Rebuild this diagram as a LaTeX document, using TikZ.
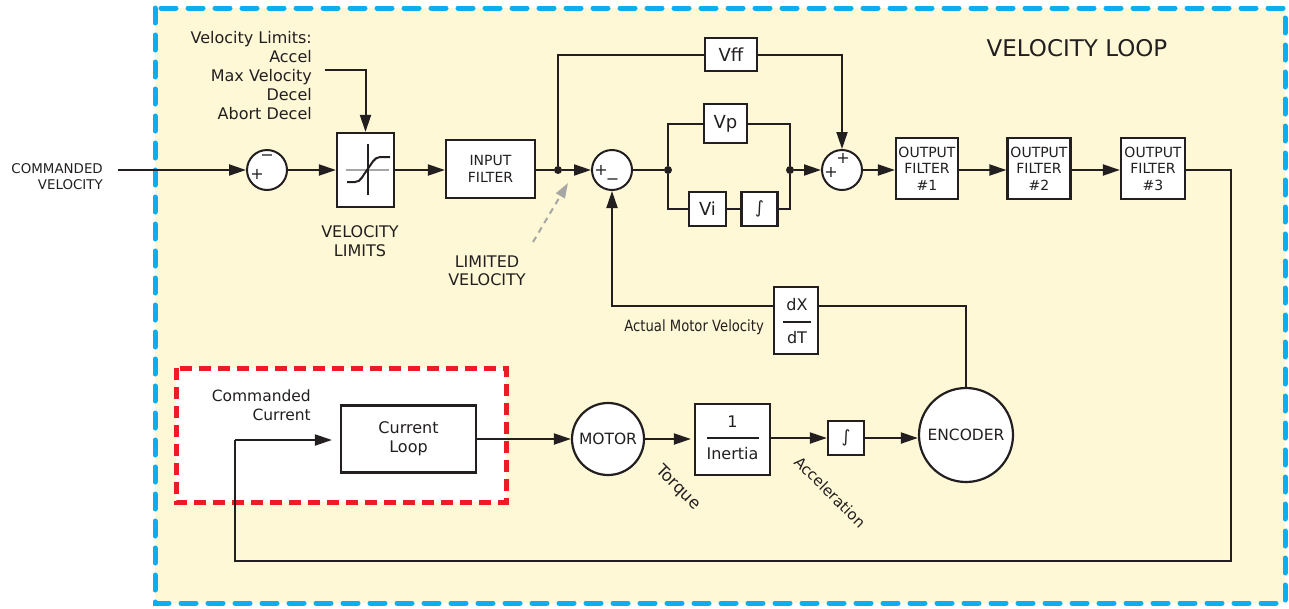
\documentclass[tikz,border=0pt]{standalone}
\usepackage{fontspec}
\setmainfont{DejaVu Sans}
\usetikzlibrary{arrows.meta,calc}
\definecolor{loopbg}{HTML}{FEF8D6}
\definecolor{loopblue}{HTML}{0BAEEF}
\definecolor{loopred}{HTML}{ED1C24}
\definecolor{ink}{HTML}{231F20}
\newcommand\fsz[2]{\fontsize{#1pt}{#2pt}\selectfont}
\tikzset{
  wire/.style={draw=ink, line width=2pt},
  arr/.style={wire, -{Triangle[length=17pt,width=11pt]}},
  blk/.style={draw=ink, line width=2.2pt, fill=white, inner sep=0pt, align=center, text=ink},
  sumj/.style={circle, draw=ink, line width=2pt, fill=white, minimum size=40pt, inner sep=0pt},
  jdot/.style={circle, fill=ink, inner sep=0pt, minimum size=8pt},
  lbl/.style={text=ink, inner sep=0pt},
  sgn/.style={text=ink, inner sep=0pt, font=\fsz{16}{16}},
}
\begin{document}
\begin{tikzpicture}[x=1pt,y=-1pt]
\useasboundingbox (0,0) rectangle (1289,608);
\fill[white] (0,0) rectangle (1289,608);
% velocity loop frame
\draw[loopblue, line width=5pt, dash pattern=on 15pt off 12pt, line cap=round, fill=loopbg] (155,8) rectangle (1285,603);
% current loop frame
\draw[loopred, line width=5pt, dash pattern=on 12pt off 7pt, fill=white] (176,368) rectangle (506,502);

\node[lbl, font=\fsz{23}{26}] (title) at (1077,48) {VELOCITY LOOP};

% nodes
\node[sumj] (sum1) at (267,170) {};
\node[blk, minimum width=57pt, minimum height=74pt] (vlim) at (365.5,170) {};
\node[blk, minimum width=89pt, minimum height=58pt, font=\fsz{14}{17}] (infilt) at (490.5,169) {INPUT\\FILTER};
\node[jdot] (dot1) at (558,170) {};
\node[sumj] (sum2) at (612,170) {};
\node[jdot] (dot2) at (668,170) {};
\node[jdot] (dot3) at (790,170) {};
\node[blk, minimum width=52pt, minimum height=33pt, font=\fsz{18}{20}] (vff) at (731,54.5) {Vff};
\node[blk, minimum width=43pt, minimum height=39pt, font=\fsz{18}{20}] (vp) at (725.5,123.5) {Vp};
\node[blk, minimum width=37pt, minimum height=34pt, font=\fsz{18}{20}] (vi) at (707.5,209) {Vi};
\node[blk, minimum width=36pt, minimum height=34pt, font=\fsz{17}{20}] (vint) at (759.5,209) {∫};
\node[sumj] (sum3) at (842,170) {};
\node[blk, minimum width=62pt, minimum height=61pt, font=\fsz{14}{16.5}] (of1) at (927,168.5) {OUTPUT\\FILTER\\\#1};
\node[blk, minimum width=63pt, minimum height=61pt, font=\fsz{14}{16.5}] (of2) at (1039,168.5) {OUTPUT\\FILTER\\\#2};
\node[blk, minimum width=64pt, minimum height=61pt, font=\fsz{14}{16.5}] (of3) at (1153,168.5) {OUTPUT\\FILTER\\\#3};

\node[blk, minimum width=135pt, minimum height=67pt, font=\fsz{16}{19}] (cloop) at (408.5,439) {Current\\Loop};
\node[blk, circle, minimum size=72pt, font=\fsz{15.5}{18}] (motor) at (608,439) {MOTOR};
\node[blk, minimum width=75pt, minimum height=71pt] (inertia) at (732.5,439.5) {};
\node[blk, minimum width=36pt, minimum height=34pt, font=\fsz{17}{20}] (aint) at (846,438) {∫};
\node[blk, circle, minimum size=94pt, font=\fsz{15.5}{18}] (encoder) at (966,435) {ENCODER};
\node[blk, minimum width=44pt, minimum height=67pt] (dxdt) at (796,320.5) {};

% fractions
\node[lbl, font=\fsz{16}{19}] (one) at (732.5,422) {1};
\node[lbl, font=\fsz{16}{19}] (inert) at (732.5,454) {Inertia};
\draw[ink, line width=2pt] (707,438) -- (759,438);
\node[lbl, font=\fsz{16}{19}] (dx) at (797,305) {dX};
\node[lbl, font=\fsz{16}{19}] (dt) at (797,338) {dT};
\draw[ink, line width=2pt] (783,322) -- (811,322);

% limiter symbol
\draw[gray!70, line width=1.6pt] (346,170) -- (389,170);
\draw[ink, line width=1.6pt] (368,144) -- (368,195);
\draw[ink, line width=2pt] (347,182) -- (355,182) .. controls (361,182) and (363,175) .. (367,170) .. controls (371,165) and (374,157) .. (380,157) -- (390,157);

% signs
\node[sgn] (s1m) at (267,157.5) {−};
\node[sgn] (s1p) at (257,174) {+};
\node[sgn] (s2p) at (601,170) {+};
\node[sgn] (s2m) at (612.5,182) {−};
\node[sgn] (s3t) at (843,158) {+};
\node[sgn] (s3l) at (831,172) {+};

% labels
\node[lbl, anchor=east, align=right, font=\fsz{13.4}{16}] (cvtxt) at (103,177) {COMMANDED\\VELOCITY};
\node[lbl, anchor=east, align=right, font=\fsz{16}{19}] (vltxt) at (312,76) {Velocity Limits:\\Accel\\Max Velocity\\Decel\\Abort Decel};
\node[lbl, align=center, font=\fsz{16}{19}] (vlimlbl) at (360,241) {VELOCITY\\LIMITS};
\node[lbl, align=center, font=\fsz{16}{18}] (limvel) at (487,271) {LIMITED\\VELOCITY};
\node[lbl, anchor=east, align=right, font=\fsz{15.5}{19}] (cctxt) at (311,405) {Commanded\\Current};
\node[lbl, anchor=east, xscale=0.85, font=\fsz{15.5}{18}] (amv) at (764,327) {Actual Motor Velocity};
\node[lbl, rotate=-45, font=\fsz{16.5}{18}] (torque) at (678,488) {Torque};
\node[lbl, rotate=-45, font=\fsz{15}{18}] (accel) at (830,492) {Acceleration};

% coordinates
\coordinate (cvin) at (118,170);
\coordinate (vla) at (325,70);
\coordinate (lvs) at (533,242);
\coordinate (lvt) at (568,183);
\coordinate (fb1) at (1231,170);
\coordinate (fb2) at (1231,561);
\coordinate (fb3) at (235,561);
\coordinate (fb4) at (235,440);

% connectors
\draw[arr] (cvin) -- (sum1.west);
\draw[arr] (sum1.east) -- (vlim.west);
\draw[arr] (vla) -| (vlim.north);
\draw[arr] (vlim.east) -- (infilt.west |- vlim.east);
\draw[wire] (infilt.east |- dot1) -- (dot1);
\draw[arr] (dot1) -- (sum2.west);
\draw[wire] (dot1) |- (vff.west);
\draw[arr] (vff.east) -| (sum3.north);
\draw[wire] (sum2.east) -- (dot2);
\draw[wire] (dot2) |- (vp.west);
\draw[wire] (vp.east) -| (dot3);
\draw[wire] (dot2) |- (vi.west);
\draw[wire] (vi.east) -- (vint.west);
\draw[wire] (vint.east) -| (dot3);
\draw[arr] (dot3) -- (sum3.west);
\draw[arr] (sum3.east) -- (of1.west |- sum3.east);
\draw[arr] (of1.east |- sum3.east) -- (of2.west |- sum3.east);
\draw[arr] (of2.east |- sum3.east) -- (of3.west |- sum3.east);
\draw[wire] (of3.east |- fb1) -- (fb1) -- (fb2) -- (fb3) -- (fb4);
\draw[arr, shorten >=8pt] (fb4) -- (cloop.west |- fb4);
\draw[arr] (cloop.east |- motor.west) -- (motor.west);
\draw[arr, shorten >=3pt] (motor.east) -- (inertia.west |- motor.east);
\draw[arr] (inertia.east |- aint.west) -- (aint.west);
\draw[arr] (aint.east) -- (encoder.west |- aint.east);
\draw[wire] (encoder.north) |- (dxdt.east |- 0,306);
\draw[arr] (dxdt.west |- 0,306) -| (sum2.south);
\draw[gray!70, line width=2pt, dash pattern=on 6pt off 5pt, -{Triangle[length=15pt,width=10pt]}] (lvs) -- (lvt);
\end{tikzpicture}
\end{document}
